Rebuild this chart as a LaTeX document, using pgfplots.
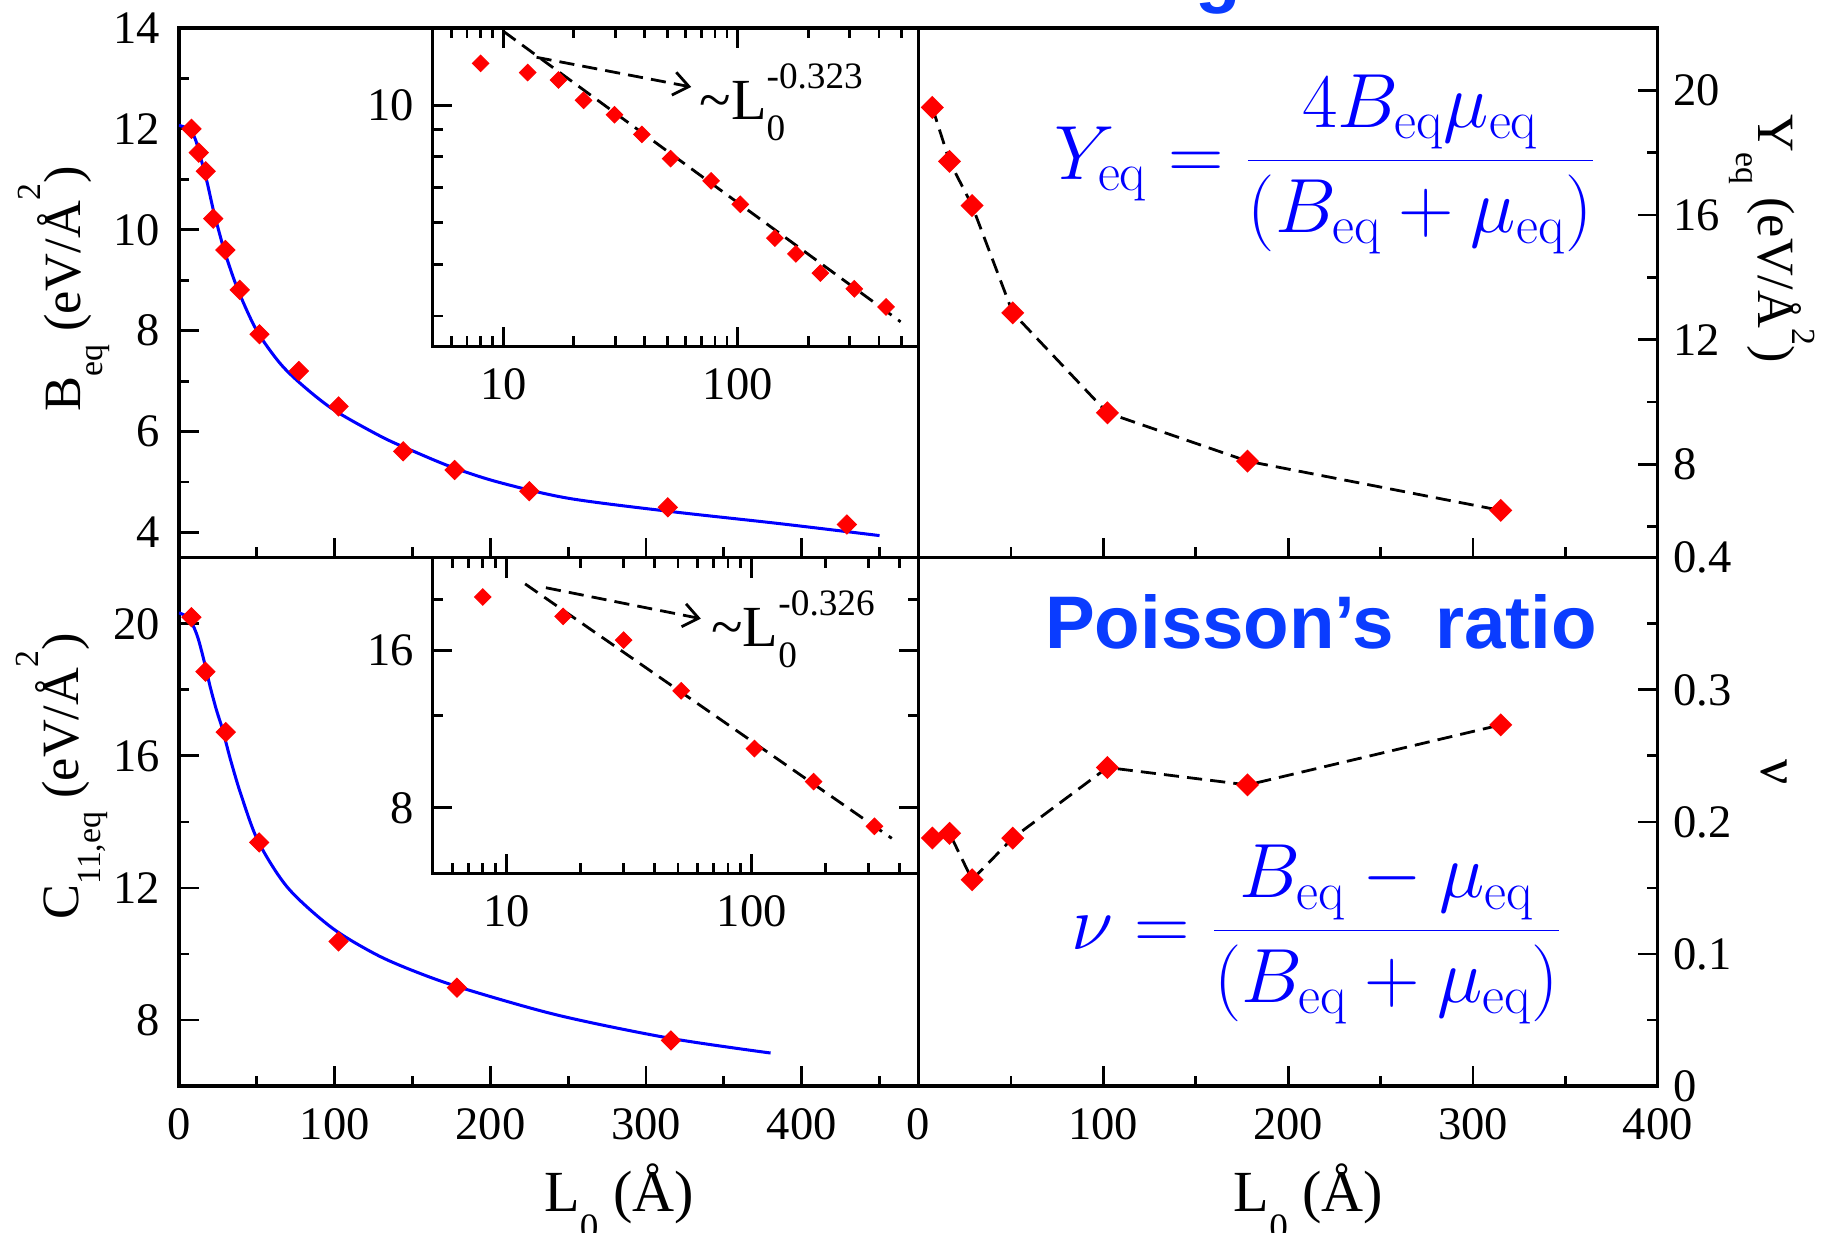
\RequirePackage{fix-cm}
\documentclass[border=0pt]{standalone}
\usepackage[no-math]{fontspec}
\setmainfont{Liberation Serif}
\newfontfamily\sansfam{Liberation Sans}
\usepackage{pgfplots}
\usepackage{pgfplotstable}
\pgfplotsset{compat=1.18}
\usetikzlibrary{arrows.meta}
\definecolor{tblue}{RGB}{10,60,255}
\definecolor{mred}{RGB}{255,0,0}
\definecolor{mblue}{RGB}{0,0,255}
\newcommand{\fs}[1]{\fontsize{#1}{#1}\selectfont}

\pgfplotstableread{
L B
8 12.0
12.7 11.53
17.2 11.16
22 10.22
29.8 9.60
39 8.81
51.7 7.93
77 7.20
102.5 6.50
144 5.61
177 5.24
225 4.82
314 4.50
429 4.16
}\Bdata

\pgfplotstableread{
L C
8 20.2
17 18.55
30 16.72
51.5 13.38
102.5 10.38
178.5 8.98
316 7.38
}\Cdata

\pgfplotstableread{
L Y
7.5 19.45
16.8 17.72
29 16.30
51 12.86
102.2 9.65
178 8.10
315 6.52
}\Ydata

\pgfplotstableread{
L nu
7.5 0.1878
16.8 0.1914
29 0.1562
51 0.1878
102.2 0.2412
178 0.2280
315 0.2735
}\Nudata

\pgfplotsset{
  base/.style={
    scale only axis,
    axis line style={line width=1.4pt},
    every tick/.style={black, line width=1.2pt},
    major tick length=8.5pt,
    minor tick length=4.5pt,
    tick align=inside,
    ticklabel style={font=\fs{20}},
    /pgf/number format/assume math mode=true,
  },
  dmark/.style={only marks, mark=square*, mark size=2.9pt, mark options={solid, rotate=45, fill=mred, draw=mred}},
  imark/.style={only marks, mark=square*, mark size=2.5pt, mark options={solid, rotate=45, fill=mred, draw=mred}},
  fitline/.style={black, line width=1.2pt, dash pattern=on 6.5pt off 3.5pt},
}

\begin{document}
\begin{tikzpicture}

% ---------------- top left: B_eq ----------------
\begin{axis}[base, at={(76.85pt,289.5pt)}, anchor=south west,
  width=317.5pt, height=227.5pt,
  xmin=0, xmax=475, ymin=3.5, ymax=14,
  xtick={0,100,...,400}, minor xtick={50,150,...,450}, xticklabels={}, xtick pos=left,
  ytick={4,6,...,14}, minor ytick={5,7,...,13}, ytick pos=left,
  yticklabel style={xshift=-4.5pt}]
\addplot[mblue, line width=1.3pt, smooth] coordinates {
(0,12.07) (4,12.03) (8,11.95) (11,11.75) (14,11.42) (18,10.95) (22,10.4) (26,9.93)
(30,9.5) (38,8.8) (50,8.0) (65,7.35) (80,6.9) (100,6.42) (130,5.9) (150,5.62)
(175,5.3) (205,5.0) (250,4.68) (315,4.42) (385,4.18) (450,3.94)};
\addplot[dmark] table[x=L, y=B] {\Bdata};
\end{axis}

% ---------------- top left inset ----------------
\begin{axis}[base, at={(185.8pt,380.15pt)}, anchor=south west,
  width=208.55pt, height=136.85pt,
  xmode=log, ymode=log,
  xmin=5, xmax=590, ymin=3.5, ymax=14,
  axis background/.style={fill=white},
  xtick={10,100}, xticklabels={10,100},
  minor xtick={6,7,8,9,20,30,40,50,60,70,80,90,200,300,400,500},
  xtick pos=both, xticklabel pos=left,
  ytick={10}, yticklabels={10}, minor ytick={4,5,6,7,8,9},
  ytick pos=left,
  xticklabel style={yshift=-6pt}, yticklabel style={xshift=-4.5pt}]
\addplot[fitline] coordinates {(10,13.8) (495,3.9)};
\addplot[imark] table[x=L, y=B] {\Bdata};
\draw[black, line width=1.2pt, dash pattern=on 6.5pt off 3.5pt, -{Straight Barb[length=6.5pt,width=10pt]}]
  (axis cs:13.86,12.32) -- (axis cs:63.3,10.83);
\node[anchor=base west, inner sep=0, font=\fs{25}] at (axis cs:68.4,9.40)
  {\textasciitilde L\rlap{\raisebox{-8.8pt}{\fs{16}0}}\raisebox{13.5pt}{\fs{16}-0.323}};
\end{axis}

% ---------------- top right: Y_eq ----------------
\begin{axis}[base, at={(394.35pt,289.5pt)}, anchor=south west,
  width=317.45pt, height=227.5pt,
  xmin=0, xmax=400, ymin=5, ymax=22,
  xtick={0,100,...,400}, minor xtick={50,150,...,350}, xticklabels={}, xtick pos=left,
  ytick={8,12,16,20}, minor ytick={6,10,14,18}, ytick pos=right, yticklabel pos=right,
  yticklabel style={xshift=3pt}]
\addplot[fitline, mark=square*, mark size=2.9pt, mark options={solid, rotate=45, fill=mred, draw=mred}] table[x=L, y=Y] {\Ydata};
\end{axis}

% ---------------- bottom left: C11 ----------------
\begin{axis}[base, at={(76.85pt,62.7pt)}, anchor=south west,
  width=317.5pt, height=226.8pt,
  xmin=0, xmax=475, ymin=6, ymax=22,
  xtick={0,100,...,400}, minor xtick={50,150,...,450}, xtick pos=left,
  ytick={8,12,16,20}, minor ytick={10,14,18}, ytick pos=left,
  xticklabel style={yshift=-6pt}, yticklabel style={xshift=-4.5pt}]
\addplot[mblue, line width=1.3pt, smooth] coordinates {
(0,20.33) (4,20.25) (8,20.05) (12,19.6) (16,18.9) (20,18.1) (24,17.4) (28,16.8)
(33,15.9) (40,14.8) (51,13.4) (70,12.0) (98,10.8) (126,10.0) (150,9.5) (181,8.98)
(243,8.15) (315,7.45) (380,7.0)};
\addplot[dmark] table[x=L, y=C] {\Cdata};
\end{axis}

% ---------------- bottom left inset ----------------
\begin{axis}[base, at={(185.8pt,154pt)}, anchor=south west,
  width=208.55pt, height=135.5pt,
  xmode=log, ymode=log,
  xmin=5, xmax=478, ymin=6, ymax=24,
  axis background/.style={fill=white},
  xtick={10,100}, xticklabels={10,100},
  minor xtick={6,7,8,9,20,30,40,50,60,70,80,90,200,300,400},
  xtick pos=both, xticklabel pos=left,
  ytick={8,16}, yticklabels={8,16}, minor ytick={12,20},
  ytick pos=both, yticklabel pos=left,
  xticklabel style={yshift=-6pt}, yticklabel style={xshift=-4.5pt}]
\addplot[fitline] coordinates {(11.9,21.4) (372,7.0)};
\addplot[imark] table[x=L, y=C] {\Cdata};
\draw[black, line width=1.2pt, dash pattern=on 6.5pt off 3.5pt, -{Straight Barb[length=6.5pt,width=10pt]}]
  (axis cs:14.47,21.04) -- (axis cs:61.97,18.37);
\node[anchor=base west, inner sep=0, font=\fs{25}] at (axis cs:68.1,16.23)
  {\textasciitilde L\rlap{\raisebox{-8.8pt}{\fs{16}0}}\raisebox{13.5pt}{\fs{16}-0.326}};
\end{axis}

% ---------------- bottom right: nu ----------------
\begin{axis}[base, at={(394.35pt,62.7pt)}, anchor=south west,
  width=317.45pt, height=226.8pt,
  xmin=0, xmax=400, ymin=0, ymax=0.4,
  xtick={0,100,...,400}, minor xtick={50,150,...,350}, xtick pos=left,
  ytick={0,0.1,0.2,0.3,0.4}, yticklabels={0,0.1,0.2,0.3,0.4},
  minor ytick={0.05,0.15,0.25,0.35},
  ytick pos=right, yticklabel pos=right,
  xticklabel style={yshift=-6pt}, yticklabel style={xshift=3pt}]
\addplot[fitline, mark=square*, mark size=2.9pt, mark options={solid, rotate=45, fill=mred, draw=mred}] table[x=L, y=nu] {\Nudata};
\end{axis}

% ---------------- labels ----------------
\node[rotate=90, anchor=base west, inner sep=0, font=\fs{22.5}] at (34.5pt,352pt)
  {B\raisebox{-9.5pt}{\fs{14.5}eq} (eV/Å\raisebox{17pt}{\fs{14.5}2})};
\node[rotate=90, anchor=base west, inner sep=0, font=\fs{22.5}] at (33.5pt,134pt)
  {C\raisebox{-9.5pt}{\fs{14.5}11,eq} (eV/Å\raisebox{17pt}{\fs{14.5}2})};
\node[rotate=-90, anchor=base west, inner sep=0, font=\fs{22.5}] at (755pt,480pt)
  {Y\raisebox{-9.5pt}{\fs{14.5}eq} (eV/Å\raisebox{14.5pt}{\fs{14.5}2})};
\node[rotate=-90, anchor=base west, inner sep=0, font=\fs{24}] at (756.5pt,203.3pt) {ν};
\node[anchor=base west, inner sep=0, font=\fs{25}] at (233.5pt,8.75pt)
  {L\raisebox{-12pt}{\fs{16}0} (Å)};
\node[anchor=base west, inner sep=0, font=\fs{25}] at (529.5pt,8.75pt)
  {L\raisebox{-12pt}{\fs{16}0} (Å)};

% ---------------- blue annotations ----------------
\node[anchor=west, inner sep=0, text=mblue, font=\fs{33}] at (452.5pt,458.4pt)
  {$\displaystyle Y_{\mathrm{eq}} = \frac{4B_{\mathrm{eq}}\mu_{\mathrm{eq}}}{(B_{\mathrm{eq}}+\mu_{\mathrm{eq}})}$};
\node[anchor=west, inner sep=0, text=mblue, font=\fs{33}] at (459.85pt,127.65pt)
  {$\displaystyle \nu = \frac{B_{\mathrm{eq}}-\mu_{\mathrm{eq}}}{(B_{\mathrm{eq}}+\mu_{\mathrm{eq}})}$};
\node[anchor=base west, inner sep=0, text=tblue, font=\sansfam\bfseries\fs{32}] at (448.5pt,250.35pt)
  {Poisson’s\hspace{0.55em}ratio};
\node[overlay, anchor=base west, inner sep=0, text=tblue, font=\sansfam\bfseries\fs{32}] at (435.5pt,529.7pt)
  {Young’s\hspace{0.55em}modulus};

\pgfresetboundingbox
\useasboundingbox (0pt,0pt) rectangle (784pt,529pt);
\end{tikzpicture}
\end{document}
